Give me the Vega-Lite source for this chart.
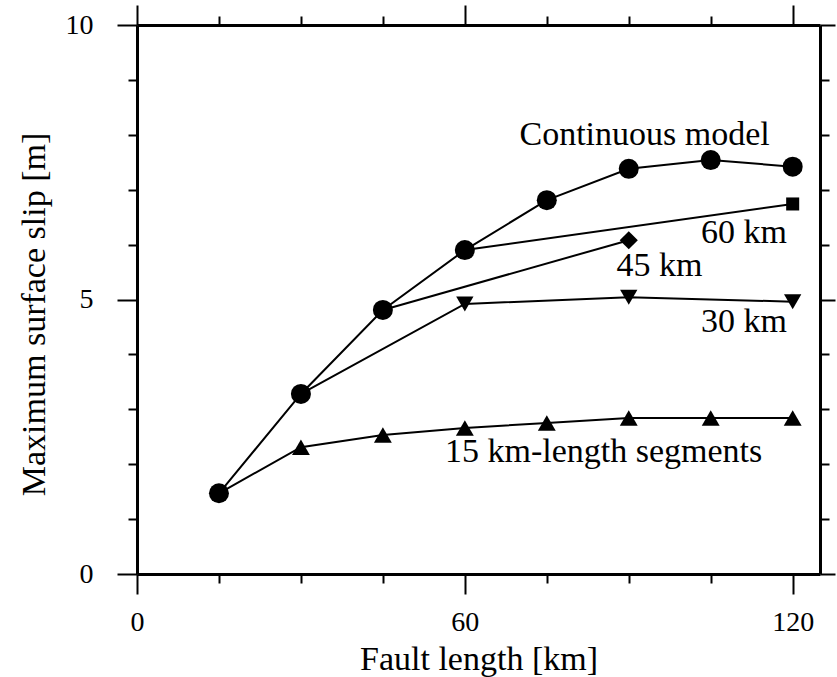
{
  "$schema": "https://vega.github.io/schema/vega-lite/v6.json",
  "width": 683,
  "height": 549,
  "autosize": {"type": "none"},
  "padding": {"left": 137, "top": 25, "right": 17, "bottom": 103},
  "background": "white",
  "config": {
    "view": {"stroke": null},
    "font": "Liberation Serif",
    "axis": {
      "grid": false,
      "domainColor": "black",
      "domainWidth": 3,
      "tickColor": "black",
      "tickWidth": 2,
      "labelFont": "Liberation Serif",
      "labelFontSize": 28,
      "labelColor": "black",
      "labelOverlap": false,
      "labelBound": false,
      "labelFlush": false,
      "titleFont": "Liberation Serif",
      "titleFontSize": 34,
      "titleFontWeight": "normal",
      "titleColor": "black"
    }
  },
  "datasets": {
    "lines": [
      {"series": "Continuous model", "x": 15, "y": 1.47},
      {"series": "Continuous model", "x": 30, "y": 3.28},
      {"series": "Continuous model", "x": 45, "y": 4.81},
      {"series": "Continuous model", "x": 60, "y": 5.9},
      {"series": "Continuous model", "x": 75, "y": 6.81},
      {"series": "Continuous model", "x": 90, "y": 7.38},
      {"series": "Continuous model", "x": 105, "y": 7.54},
      {"series": "Continuous model", "x": 120, "y": 7.42},
      {"series": "60 km", "x": 60, "y": 5.9},
      {"series": "60 km", "x": 120, "y": 6.74},
      {"series": "45 km", "x": 45, "y": 4.81},
      {"series": "45 km", "x": 90, "y": 6.08},
      {"series": "30 km", "x": 30, "y": 3.28},
      {"series": "30 km", "x": 60, "y": 4.92},
      {"series": "30 km", "x": 90, "y": 5.04},
      {"series": "30 km", "x": 120, "y": 4.96},
      {"series": "15 km", "x": 15, "y": 1.47},
      {"series": "15 km", "x": 30, "y": 2.31},
      {"series": "15 km", "x": 45, "y": 2.53},
      {"series": "15 km", "x": 60, "y": 2.66},
      {"series": "15 km", "x": 75, "y": 2.75},
      {"series": "15 km", "x": 90, "y": 2.84},
      {"series": "15 km", "x": 105, "y": 2.84},
      {"series": "15 km", "x": 120, "y": 2.84}
    ],
    "markers": [
      {"series": "Continuous model", "x": 15, "y": 1.47},
      {"series": "Continuous model", "x": 30, "y": 3.28},
      {"series": "Continuous model", "x": 45, "y": 4.81},
      {"series": "Continuous model", "x": 60, "y": 5.9},
      {"series": "Continuous model", "x": 75, "y": 6.81},
      {"series": "Continuous model", "x": 90, "y": 7.38},
      {"series": "Continuous model", "x": 105, "y": 7.54},
      {"series": "Continuous model", "x": 120, "y": 7.42},
      {"series": "60 km", "x": 120, "y": 6.74},
      {"series": "45 km", "x": 90, "y": 6.08},
      {"series": "30 km", "x": 60, "y": 4.92},
      {"series": "30 km", "x": 90, "y": 5.04},
      {"series": "30 km", "x": 120, "y": 4.96},
      {"series": "15 km", "x": 30, "y": 2.31},
      {"series": "15 km", "x": 45, "y": 2.53},
      {"series": "15 km", "x": 60, "y": 2.66},
      {"series": "15 km", "x": 75, "y": 2.75},
      {"series": "15 km", "x": 90, "y": 2.84},
      {"series": "15 km", "x": 105, "y": 2.84},
      {"series": "15 km", "x": 120, "y": 2.84}
    ],
    "labels": [
      {"text": "Continuous model", "x": 92.9, "y": 7.81},
      {"text": "60 km", "x": 111.1, "y": 6.03},
      {"text": "45 km", "x": 95.6, "y": 5.43},
      {"text": "30 km", "x": 111.1, "y": 4.41},
      {"text": "15 km-length segments", "x": 85.4, "y": 2.04}
    ]
  },
  "resolve": {"axis": {"x": "independent", "y": "independent"}},
  "layer": [
    {
      "data": {"name": "lines"},
      "mark": {"type": "line", "color": "black", "strokeWidth": 2},
      "encoding": {
        "x": {
          "field": "x", "type": "quantitative",
          "scale": {"domain": [0, 125], "nice": false, "zero": false},
          "axis": {
            "orient": "bottom",
            "title": "Fault length [km]",
            "values": [0, 15, 30, 45, 60, 75, 90, 105, 120],
            "labelExpr": "datum.value % 60 === 0 ? datum.label : ''",
            "tickSize": {"condition": {"test": "datum.value % 60 === 0", "value": 20}, "value": 9},
            "labelPadding": 14,
            "titlePadding": 6
          }
        },
        "y": {
          "field": "y", "type": "quantitative",
          "scale": {"domain": [0, 10], "nice": false},
          "axis": {
            "orient": "left",
            "title": "Maximum surface slip [m]",
            "values": [0, 1, 2, 3, 4, 5, 6, 7, 8, 9, 10],
            "labelExpr": "datum.value % 5 === 0 ? datum.label : ''",
            "tickSize": {"condition": {"test": "datum.value % 5 === 0", "value": 20}, "value": 9},
            "labelPadding": 24,
            "titlePadding": 14,
            "titleY": 289
          }
        },
        "detail": {"field": "series"}
      }
    },
    {
      "data": {"name": "markers"},
      "mark": {"type": "point", "filled": true, "color": "black", "opacity": 1},
      "encoding": {
        "x": {
          "field": "x", "type": "quantitative",
          "axis": {
            "orient": "top",
            "title": null,
            "labels": false,
            "values": [0, 15, 30, 45, 60, 75, 90, 105, 120],
            "tickSize": {"condition": {"test": "datum.value % 60 === 0", "value": 20}, "value": 9}
          }
        },
        "y": {
          "field": "y", "type": "quantitative",
          "axis": {
            "orient": "right",
            "title": null,
            "labels": false,
            "values": [0, 1, 2, 3, 4, 5, 6, 7, 8, 9, 10],
            "tickSize": {"condition": {"test": "datum.value % 5 === 0", "value": 15}, "value": 9}
          }
        },
        "shape": {
          "field": "series", "type": "nominal", "legend": null,
          "scale": {
            "domain": ["Continuous model", "60 km", "45 km", "30 km", "15 km"],
            "range": ["circle", "square", "diamond", "triangle-down", "triangle-up"]
          }
        },
        "size": {
          "field": "series", "type": "nominal", "legend": null,
          "scale": {
            "type": "ordinal",
            "domain": ["Continuous model", "60 km", "45 km", "30 km", "15 km"],
            "range": [400, 170, 330, 300, 320]
          }
        }
      }
    },
    {
      "data": {"name": "labels"},
      "mark": {"type": "text", "font": "Liberation Serif", "fontSize": 34, "color": "black", "align": "center", "baseline": "alphabetic"},
      "encoding": {
        "x": {"field": "x", "type": "quantitative", "axis": null},
        "y": {"field": "y", "type": "quantitative", "axis": null},
        "text": {"field": "text"}
      }
    }
  ]
}
